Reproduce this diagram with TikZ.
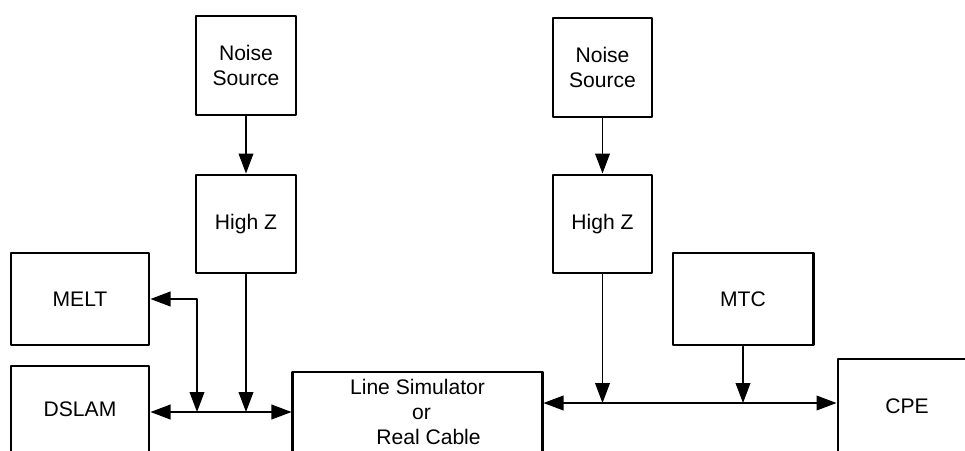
\documentclass[tikz,border=0pt]{standalone}
\usepackage{fontspec}
\setmainfont{Liberation Sans}
\usetikzlibrary{arrows.meta}

\begin{document}
\begin{tikzpicture}[
			x=0.025cm,
			y=-0.025cm,
			line cap=round,
			line join=round,
			Block/.style={draw, line width=2.1pt, rectangle, inner sep=2pt,
				align=center, font=\fontsize{15}{17.8}\selectfont},
			Link/.style={line width=0.8pt, -{Triangle[length=0.5cm,width=0.37cm]}},
			Both/.style={Link, {Triangle[length=0.5cm,width=0.37cm]}-{Triangle[length=0.5cm,width=0.37cm]}}
			]
			
			\useasboundingbox (0,0) rectangle (965,450);
			\clip (0,0) rectangle (965,450);
			
			% Left branch
			\node[Block, minimum width=2.5cm, minimum height=2.475cm] (NoiseA) at (246,65.5) {Noise\\Source};
			\node[Block, minimum width=2.5cm, minimum height=2.45cm] (HighZA) at (246,224) {High Z};
			\node[Block, minimum width=3.45cm, minimum height=2.3cm] (Melt) at (80,299) {MELT};
			\node[Block, minimum width=3.45cm, minimum height=2.175cm] (Dslam) at (80,409.5) {DSLAM};
			
			% Middle
			\node[Block, minimum width=6.225cm, minimum height=2.0cm] (LineSim) at (417.5,412) {Line Simulator\\\hspace*{0.2cm}or\\\hspace*{0.55cm}Real Cable};
			
			% Right branch
			\node[Block, minimum width=2.475cm, minimum height=2.475cm] (NoiseB) at (602.5,67.5) {Noise\\Source};
			\node[Block, minimum width=2.475cm, minimum height=2.45cm] (HighZB) at (602.5,224) {High Z};
			\node[Block, minimum width=3.5cm, minimum height=2.3cm] (Mtc) at (743,299) {MTC};
			\node[Block, minimum width=3.45cm, minimum height=2.35cm] (Cpe) at (907,406) {CPE};
			
			% Bus junctions
			\coordinate (JoinA) at (197,412);
			\coordinate (JoinB) at (602.5,403);
			
			\draw[Link] (NoiseA) -- (HighZA);
			\draw[Link] (NoiseB) -- (HighZB);
			
			\draw[Both] (Melt.east) -| (JoinA);
			\draw[Link] (HighZA.south) -- (HighZA.south |- JoinA);
			\draw[Both] (Dslam.east |- JoinA) -- (LineSim.west |- JoinA);
			
			\draw[Link] (HighZB.south) -- (JoinB);
			\draw[Link] (Mtc.south) -- (Mtc.south |- JoinB);
			\draw[Both] (LineSim.east |- JoinB) -- (Cpe.west |- JoinB);
			
		\end{tikzpicture}
\end{document}
